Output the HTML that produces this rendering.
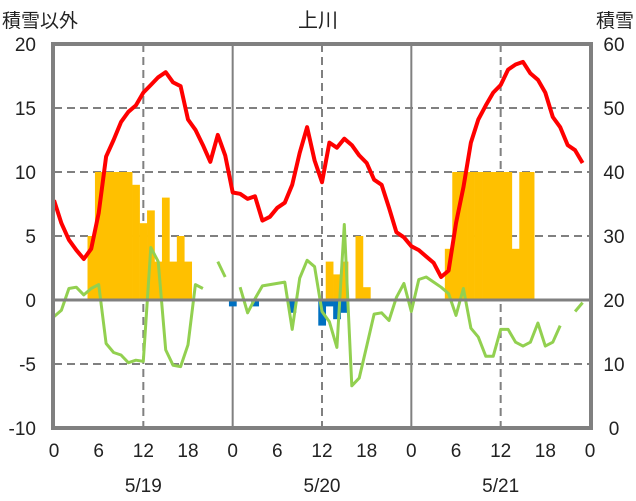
<!DOCTYPE html>
<html><head><meta charset="utf-8"><style>
body{margin:0;background:#fff}
svg{display:block;font-family:"Liberation Sans","Noto Sans CJK JP",sans-serif}
</style></head><body>
<svg id="chart" width="636" height="501" viewBox="0 0 636 501">
<text x="318" y="27" font-size="20" text-anchor="middle" fill="#222">上川</text>
<text x="2" y="27" font-size="19" fill="#222">積雪以外</text>
<text x="634" y="27" font-size="19" fill="#222" text-anchor="end">積雪</text>
<g id="grid"></g><g id="bars"></g><g id="lines"></g><g id="axes"></g>
</svg>
<script>
const leftTicks=[20,15,10,5,0,-5,-10];
const rightTicks=[60,50,40,30,20,10,0];
const hourLabels=["0","6","12","18","0","6","12","18","0","6","12","18","0"];
const dateLabels=["5/19","5/20","5/21"];
const snowHours=[5,6,7,8,9,10,11,12,13,14,15,16,17,18,37,38,39,41,42,53,54,55,56,57,58,59,60,61,62,63,64];
const snowValues=[5,10,10,10,10,10,9,6,7,3,8,3,5,3,3,2,3,5,1,4,10,10,10,10,10,10,10,10,4,10,10];
const meltHours=[24,27,32,36,37,38,39];
const meltValues=[-0.5,-0.5,-1,-2,-0.5,-1.5,-1];
const temp=[7.8,6.0,4.7,3.9,3.2,4.0,6.8,11.2,12.5,13.9,14.7,15.2,16.2,16.8,17.4,17.8,17.0,16.7,14.1,13.3,12.1,10.8,12.9,11.3,
8.4,8.3,7.9,8.1,6.2,6.5,7.2,7.6,9.0,11.5,13.5,10.9,9.2,12.3,11.9,12.6,12.1,11.3,10.7,9.4,9.0,7.2,5.3,4.9,
4.2,3.9,3.4,2.9,1.8,2.3,6.0,8.8,12.3,14.1,15.2,16.2,16.8,18.0,18.4,18.6,17.7,17.2,16.2,14.3,13.5,12.1,11.7,10.7];
const other=[-1.3,-0.8,0.9,1.0,0.4,0.9,1.2,-3.4,-4.1,-4.3,-4.9,-4.7,-4.8,4.1,3.0,-3.9,-5.1,-5.2,-3.5,1.2,0.9,null,3.0,1.8,
null,1.0,-1.0,0.1,1.1,1.2,1.3,1.4,-2.3,1.7,3.1,2.6,-0.9,-1.7,-3.7,5.9,-6.7,-6.1,-3.6,-1.1,-1.0,-1.6,0.2,1.3,
-0.9,1.6,1.8,1.4,1.0,0.5,-1.2,0.9,-2.2,-2.9,-4.4,-4.4,-2.3,-2.3,-3.3,-3.6,-3.3,-1.8,-3.6,-3.3,-2.0,null,-0.9,-0.2];

const X0=54,X1=590,Y0=44,Y1=428;
const x=h=>X0+(X1-X0)*h/72;
const y=v=>Y1-(v+10)*(Y1-Y0)/30;
const yr=v=>Y1-v*(Y1-Y0)/60;
const NS="http://www.w3.org/2000/svg";
function mk(tag,attrs,parent){const e=document.createElementNS(NS,tag);for(const k in attrs)e.setAttribute(k,attrs[k]);document.getElementById(parent).appendChild(e);return e;}

leftTicks.forEach(v=>{
  if(v!==20&&v!==-10&&v!==0){const l=mk('line',{x1:X0,x2:X1,y1:y(v),y2:y(v),stroke:'#808080','stroke-width':2,'stroke-dasharray':'8,5'},'grid');
  
  }
  const t=mk('text',{x:36,y:y(v)+7,'font-size':19,'text-anchor':'end',fill:'#222'},'axes');t.textContent=v;
  
  
});
rightTicks.forEach(v=>{
  const t=mk('text',{x:614,y:yr(v)+7,'font-size':19,'text-anchor':'middle',fill:'#222'},'axes');t.textContent=v;
  
  
});
[12,36,60].forEach(h=>{const l=mk('line',{x1:x(h),x2:x(h),y1:Y0,y2:Y1,stroke:'#808080','stroke-width':2,'stroke-dasharray':'8,5'},'grid');
  
  });
[24,48].forEach(h=>{const l=mk('line',{x1:x(h),x2:x(h),y1:Y0,y2:Y1,stroke:'#808080','stroke-width':2},'grid');
  
  });

const bw=(X1-X0)/72;
snowHours.forEach((h,i)=>{const v=snowValues[i];const r=mk('rect',{x:x(h)-bw/2,y:y(v),width:bw+0.3,height:y(0)-y(v),fill:'#FFC000'},'bars');
  
  });
meltHours.forEach((h,i)=>{const v=meltValues[i];const r=mk('rect',{x:x(h)-bw/2,y:y(0),width:bw+0.3,height:y(v)-y(0),fill:'#0070C0'},'bars');
  
  });

const zl=mk('line',{x1:X0,x2:X1,y1:y(0),y2:y(0),stroke:'#808080','stroke-width':3},'axes');



function path(arr){let d='',pen=false;arr.forEach((v,h)=>{if(v===null){pen=false;return;}d+=(pen?'L':'M')+x(h).toFixed(1)+','+y(v).toFixed(1);pen=true;});return d;}
const g=mk('path',{d:path(other),fill:'none',stroke:'#92D050','stroke-width':3,'stroke-linejoin':'round'},'lines');


const r=mk('path',{d:path(temp),fill:'none',stroke:'#FF0000','stroke-width':4,'stroke-linejoin':'round'},'lines');



const fr=mk('rect',{x:X0-1,y:Y0,width:X1-X0+2,height:Y1-Y0,fill:'none',stroke:'#808080','stroke-width':4},'axes');



hourLabels.forEach((s,i)=>{const t=mk('text',{x:x(i*6),y:457,'font-size':19,'text-anchor':'middle',fill:'#222'},'axes');t.textContent=s;
  
  });
dateLabels.forEach((s,i)=>{const t=mk('text',{x:x(12+24*i),y:492,'font-size':19,'text-anchor':'middle',fill:'#222'},'axes');t.textContent=s;
  
  });
</script>
</body></html>
